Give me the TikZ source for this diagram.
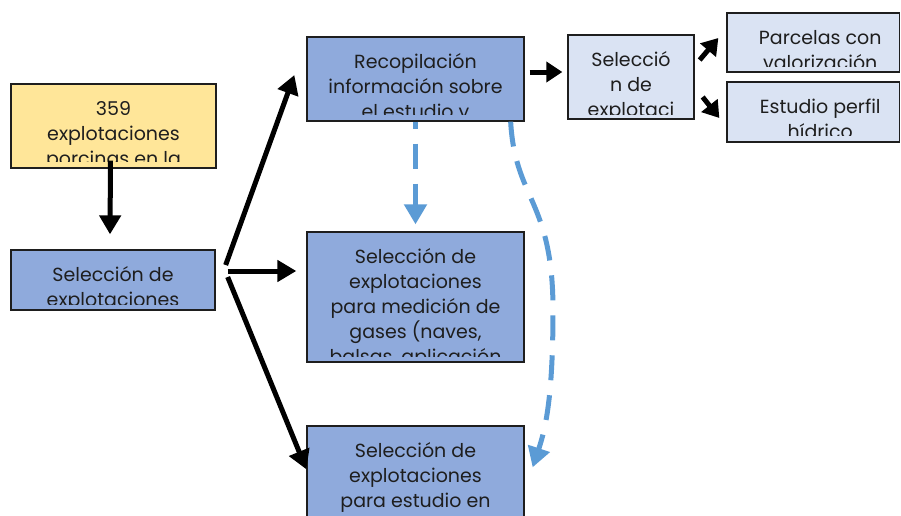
\documentclass[tikz,border=0pt]{standalone}
\usepackage{fontspec}
\setmainfont{Poppins}
\usetikzlibrary{arrows.meta,calc,fit}
\definecolor{midblue}{RGB}{143,170,220}
\definecolor{lightblue}{RGB}{218,227,243}
\definecolor{lightyellow}{RGB}{255,230,153}
\definecolor{dashblue}{RGB}{91,155,213}
\definecolor{ink}{RGB}{30,30,30}
\tikzset{
 boxst/.style={draw=ink, line width=1.3pt, inner sep=0pt},
 txtst/.style={anchor=north, align=center, inner sep=0pt, text=ink, font=\fontsize{19}{25}\selectfont},
 blk/.style={line width=5pt, -{Triangle[length=19pt,width=21pt]}},
 blksmall/.style={line width=5pt, -{Triangle[length=16pt,width=20pt]}},
 blu/.style={draw=dashblue, line width=5pt, dash pattern=on 25pt off 15pt, -{Triangle[length=20pt,width=22pt]}},
}
\newcommand\mkbox[9][0]{%
 \node[boxst, fill=#7, fit={(#3,#4)(#5,#6)}] (#2) {};
 \begin{scope}\clip (#3,#4) rectangle (#5,#8);
 \node[txtst] at ([yshift=-14pt,xshift=#1pt]#2.north) {\strut #9};
 \end{scope}}
\begin{document}
\begin{tikzpicture}[x=1pt,y=-1pt]
\useasboundingbox (0,0) rectangle (901,515);
\clip (0,0) rectangle (901,515);
\mkbox{pop}{11}{84}{216}{168}{lightyellow}{161}{359\\explotaciones\\porcinas en la}
\mkbox{sel}{11}{250}{215}{310}{midblue}{304}{Selección de\\explotaciones}
\mkbox{rec}{307}{37}{524}{121}{midblue}{114}{Recopilación\\información sobre\\el estudio y}
\mkbox{med}{307}{232}{524}{362}{midblue}{356}{Selección de\\explotaciones\\para medición de\\gases (naves,\\balsas, aplicación}
\mkbox{est}{307}{426}{524}{540}{midblue}{530}{Selección de\\explotaciones\\para estudio en}
\mkbox{sub}{568}{35}{694}{119}{lightblue}{114}{Selecció\\n de\\explotaci}
\mkbox[7]{parc}{727}{13}{899.5}{72}{lightblue}{66}{Parcelas con\\valorización}
\mkbox[7]{perf}{727}{82}{899.5}{142}{lightblue}{135}{Estudio perfil\\hídrico}
% black arrows
\draw[blk] ([yshift=8pt,xshift=-3pt]pop.south) -- ([yshift=15pt,xshift=-3pt]sel.north);
\coordinate (fanA) at ($(sel.east)+(10,-15)$);
\coordinate (fanB) at ($(sel.east)+(12,-9)$);
\coordinate (fanC) at ($(sel.east)+(12,-3)$);
\draw[blk] (fanA) -- ($(rec.west)+(-12,-4)$);
\draw[blk] (fanB) -- ($(med.west)+(-10,-26)$);
\draw[blk] (fanC) -- ($(est.north west)+(0,44)$);
\draw[blksmall] ($(rec.east)+(5,-7)$) -- ($(sub.west)+(-5,-5)$);
\draw[blksmall] ($(sub.east)+(5,-17)$) -- ($(parc.west)+(-8,-4.5)$);
\draw[blksmall] ($(sub.east)+(8,20)$) -- ($(perf.west)+(-7,6)$);
% blue dashed arrows
\draw[blu, dash phase=18pt] (rec.south) -- ($(med.north)+(0,-7)$);
\coordinate (bend) at (553,310);
\draw[blu] ($(rec.south east)+(-14,0)$) .. controls (515,200) and (553,200) .. (bend)
  .. controls (553,400) and (545,430) .. ($(est.north east)+(8,42)$);
\end{tikzpicture}
\end{document}
